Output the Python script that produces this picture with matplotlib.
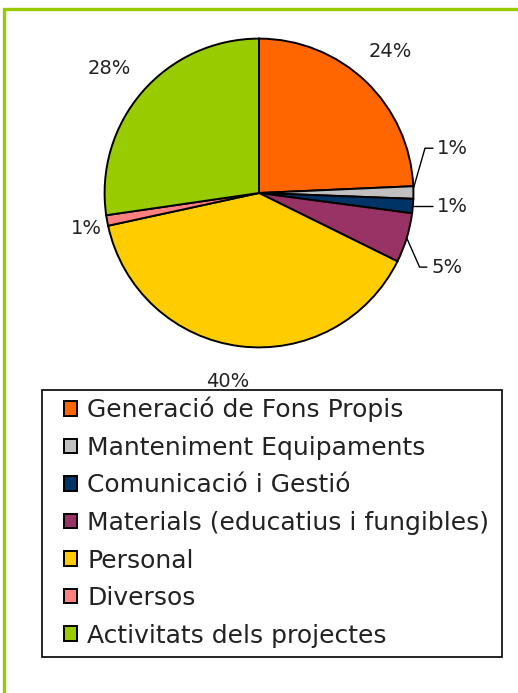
import matplotlib.pyplot as plt
import numpy as np
from matplotlib.patches import Rectangle

# categories and shares (percent), clockwise from 12 o'clock
labels = ['Generació de Fons Propis', 'Manteniment Equipaments', 'Comunicació i Gestió',
          'Materials (educatius i fungibles)', 'Personal', 'Diversos', 'Activitats dels projectes']
values = [24.3, 1.3, 1.5, 5.2, 39.3, 1.1, 27.3]
pct_labels = ['24%', '1%', '1%', '5%', '40%', '1%', '28%']
colors = ['#FF6600', '#C0C0C0', '#003366', '#993366', '#FFCC00', '#FF8080', '#99CC00']

W, H = 518, 693
fig = plt.figure(figsize=(W / 100, H / 100), dpi=100)
fig.patch.set_facecolor('white')

# green page frame (only left and top visible)
fig.patches.append(Rectangle((4 / W, -0.2), 1.2, 1.2 - 9 / H, transform=fig.transFigure,
                             fill=False, edgecolor='#99CC00', linewidth=2.4, zorder=0))

# pie axes: centre at (258,193) px, radius 155 px
R = 155
ax = fig.add_axes([0, 1 - 386 / H, 1, 386 / H])
ax.set_xlim(-258 / R, 260 / R)
ax.set_ylim(-193 / R, 193 / R)
ax.axis('off')

wedges, _ = ax.pie(values, colors=colors, startangle=90, counterclock=False,
                   wedgeprops=dict(edgecolor='black', linewidth=1.4))

fs = 14
tc = '#222222'
# leader lines for the small slices: (elbow, end of line, text y, where on rim)
leaders = {1: ((1.075, 0.29), 1.13, 0.29, 0.2),
           2: (None, 1.13, -0.10, 0.0),
           3: ((1.04, -0.48), 1.09, -0.48, 0.5)}
# nudges for the big labels (data units)
nudge = {0: (0.0, 0.03), 4: (-0.05, 0.0), 6: (-0.04, 0.0)}
for i, w in enumerate(wedges):
    mid_deg = (w.theta1 + w.theta2) / 2
    if i in leaders:
        elbow, xend, ty, frac = leaders[i]
        a = np.deg2rad(w.theta1 + (w.theta2 - w.theta1) * (1 - frac) if frac else mid_deg)
        sx, sy = np.cos(a), np.sin(a)
        if elbow is None:
            xs, ys = [sx, xend], [sy, sy]
            ty = sy
        else:
            xs, ys = [sx, elbow[0], xend], [sy, elbow[1], ty]
        ax.plot(xs, ys, color='black', lw=1.0, solid_capstyle='butt')
        ax.text(xend + 0.025, ty, pct_labels[i], ha='left', va='center', fontsize=fs, color=tc)
    elif i == 5:
        ax.text(-1.12, -0.23, pct_labels[i], ha='center', va='center', fontsize=fs, color=tc)
    else:
        m = np.deg2rad(mid_deg)
        dx, dy = nudge.get(i, (0, 0))
        ax.text(1.23 * np.cos(m) + dx, 1.23 * np.sin(m) + dy, pct_labels[i],
                ha='center', va='center', fontsize=fs, color=tc)

# legend box drawn separately, entries placed inside without frame
fig.patches.append(Rectangle((42 / W, 1 - 657 / H), 460 / W, 267 / H, transform=fig.transFigure,
                             fill=False, edgecolor='black', linewidth=1.2, zorder=1))
leg = fig.legend(wedges, labels, loc='upper left', bbox_to_anchor=(64 / W, 1 - 397 / H),
                 fontsize=18, frameon=False,
                 handlelength=0.52, handleheight=0.52, handletextpad=0.4,
                 labelspacing=0.54, borderpad=0, borderaxespad=0)
for t in leg.get_texts():
    t.set_color(tc)

fig.savefig('out.png', dpi=100)
